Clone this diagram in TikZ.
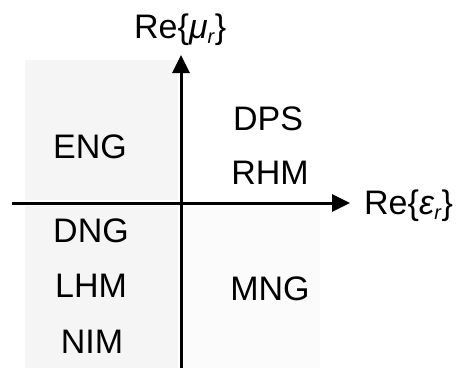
\documentclass[tikz,border=0pt]{standalone}
\usepackage{fontspec}
\setmainfont{Liberation Sans}
\usetikzlibrary{arrows.meta}
\tikzset{
  axis/.style={line width=3pt, -{Triangle[length=18pt,width=17pt]}},
  quad/.style={font=\fontsize{34}{34}\selectfont, inner sep=0pt, anchor=center},
  axlabel/.style={font=\fontsize{34}{34}\selectfont, inner sep=0pt},
}
\begin{document}
\begin{tikzpicture}[x=1pt,y=-1pt]
\useasboundingbox (0,0) rectangle (459,368);
% light stipple-like shading
\fill[black!4] (25,60) rectangle (178,200);
\fill[black!4] (25,206) rectangle (178,368);
\fill[black!1.5] (184,206) rectangle (320,368);
% axes
\coordinate (xs) at (12,203);
\coordinate (xe) at (350,203);
\coordinate (ys) at (181,368);
\coordinate (ye) at (181,55);
\draw[axis] (xs) -- (xe);
\draw[axis] (ys) -- (ye);
% axis labels
\node[axlabel, anchor=base west] (mu) at (134,38) {Re\{\textit{μ}\raisebox{-0.3ex}{\fontsize{20}{20}\selectfont\textit{r}}\}};
\node[axlabel, anchor=base west] (eps) at (364,214) {Re\{\textit{ε}\raisebox{-0.3ex}{\fontsize{20}{20}\selectfont\textit{r}}\}};
% quadrant labels
\node[quad] (eng) at (90,147) {ENG};
\node[quad] (dps) at (268,119) {DPS};
\node[quad] (rhm) at (270,173) {RHM};
\node[quad] (dng) at (91,231) {DNG};
\node[quad] (lhm) at (91,286) {LHM};
\node[quad] (nim) at (92,342) {NIM};
\node[quad] (mng) at (270,289) {MNG};
\end{tikzpicture}
\end{document}
